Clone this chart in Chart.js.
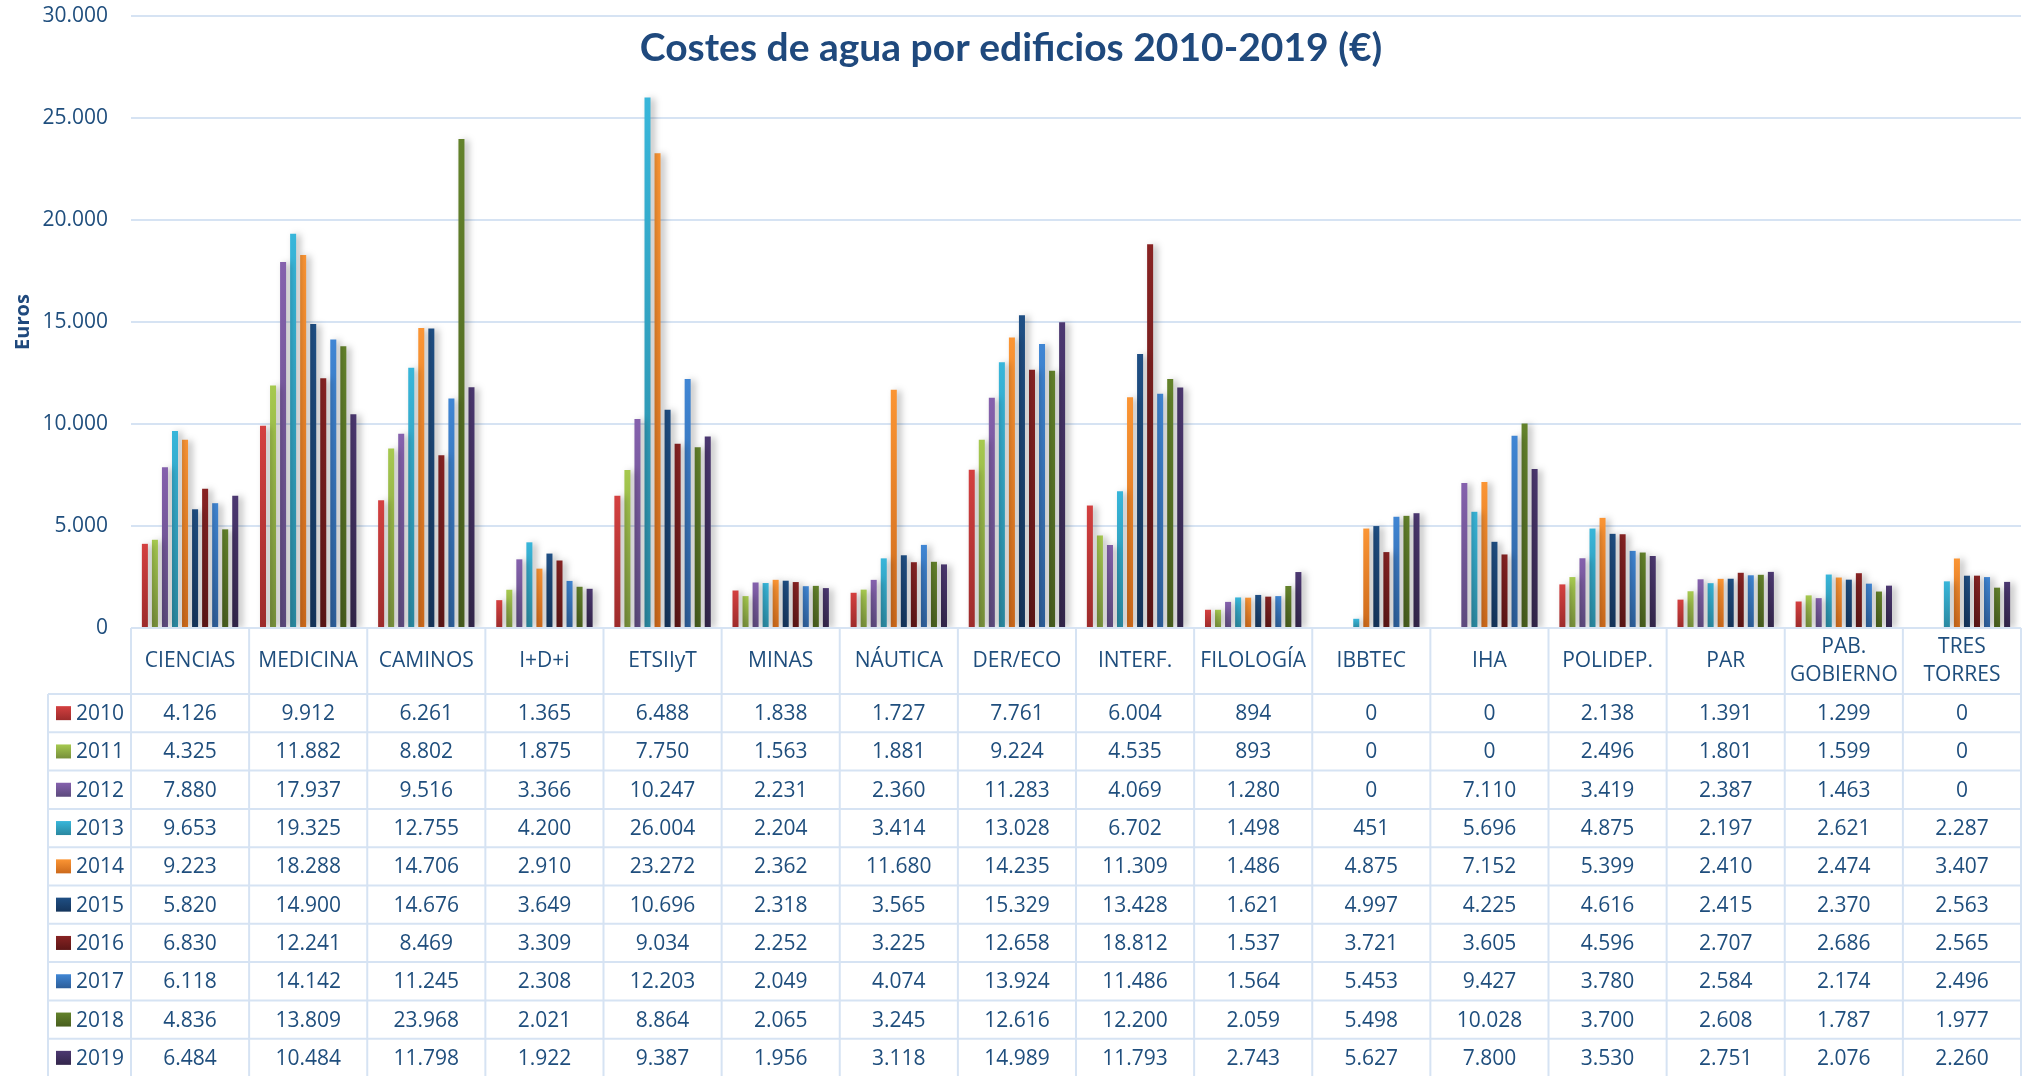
<!DOCTYPE html>
<html>
<head>
<meta charset="utf-8">
<script src="https://cdn.jsdelivr.net/npm/chart.js@4.4.1/dist/chart.umd.min.js"></script>
<style>
    body { margin: 0; background: #ffffff; }
    canvas { display: block; }
</style>
</head>
<body>
<canvas id="myBarChart" width="2033" height="1076"></canvas>
<script>
const chartTitle = 'Costes de agua por edificios 2010-2019 (€)';
const yTitle = 'Euros';

const categories = ['CIENCIAS', 'MEDICINA', 'CAMINOS', 'I+D+i', 'ETSIIyT', 'MINAS', 'NÁUTICA', 'DER/ECO',
    'INTERF.', 'FILOLOGÍA', 'IBBTEC', 'IHA', 'POLIDEP.', 'PAR', ['PAB.', 'GOBIERNO'], ['TRES', 'TORRES']];

const years = ['2010', '2011', '2012', '2013', '2014', '2015', '2016', '2017', '2018', '2019'];

const v2010 = [4126, 9912, 6261, 1365, 6488, 1838, 1727, 7761, 6004, 894, 0, 0, 2138, 1391, 1299, 0];
const v2011 = [4325, 11882, 8802, 1875, 7750, 1563, 1881, 9224, 4535, 893, 0, 0, 2496, 1801, 1599, 0];
const v2012 = [7880, 17937, 9516, 3366, 10247, 2231, 2360, 11283, 4069, 1280, 0, 7110, 3419, 2387, 1463, 0];
const v2013 = [9653, 19325, 12755, 4200, 26004, 2204, 3414, 13028, 6702, 1498, 451, 5696, 4875, 2197, 2621, 2287];
const v2014 = [9223, 18288, 14706, 2910, 23272, 2362, 11680, 14235, 11309, 1486, 4875, 7152, 5399, 2410, 2474, 3407];
const v2015 = [5820, 14900, 14676, 3649, 10696, 2318, 3565, 15329, 13428, 1621, 4997, 4225, 4616, 2415, 2370, 2563];
const v2016 = [6830, 12241, 8469, 3309, 9034, 2252, 3225, 12658, 18812, 1537, 3721, 3605, 4596, 2707, 2686, 2565];
const v2017 = [6118, 14142, 11245, 2308, 12203, 2049, 4074, 13924, 11486, 1564, 5453, 9427, 3780, 2584, 2174, 2496];
const v2018 = [4836, 13809, 23968, 2021, 8864, 2065, 3245, 12616, 12200, 2059, 5498, 10028, 3700, 2608, 1787, 1977];
const v2019 = [6484, 10484, 11798, 1922, 9387, 1956, 3118, 14989, 11793, 2743, 5627, 7800, 3530, 2751, 2076, 2260];

const yTicks = [0, 5000, 10000, 15000, 20000, 25000, 30000];

// colores (arriba / abajo del degradado)
const topColors = ['#d44040', '#a6c94f', '#8561ad', '#38b6da', '#fb9534', '#1f4f84', '#882323', '#4086d4', '#63822b', '#4c3871'];
const bottomColors = ['#9c2b2b', '#778f3b', '#5c4a7d', '#2a88a0', '#cc691b', '#15355c', '#5c1616', '#2d5e99', '#485e1e', '#33264b'];

const textColor = '#1f4e7d';
const lineColor = '#d6e3f3';

function fmt(v) {
    return v.toString().replace(/\B(?=(\d{3})+(?!\d))/g, '.');
}

document.addEventListener('DOMContentLoaded', function () {
    const canvas = document.getElementById('myBarChart');
    const ctx = canvas.getContext('2d');

    const allValues = [v2010, v2011, v2012, v2013, v2014, v2015, v2016, v2017, v2018, v2019];

    const datasets = years.map((year, i) => ({
        label: year,
        data: allValues[i],
        backgroundColor: function (c) {
            const chart = c.chart;
            const area = chart.chartArea;
            if (!area || c.type !== 'data') return topColors[i];
            const yTop = chart.scales.y.getPixelForValue(c.raw);
            const g = chart.ctx.createLinearGradient(0, yTop, 0, area.bottom);
            g.addColorStop(0, topColors[i]);
            g.addColorStop(1, bottomColors[i]);
            return g;
        },
        borderWidth: 0,
        barPercentage: 0.6,
        categoryPercentage: 0.85
    }));

    // sombra de las barras
    const shadowPlugin = {
        id: 'barShadow',
        beforeDatasetsDraw(chart) {
            const c = chart.ctx;
            c.save();
            c.shadowColor = 'rgba(0, 0, 0, 0.28)';
            c.shadowBlur = 7;
            c.shadowOffsetX = 4;
            c.shadowOffsetY = 1;
        },
        afterDatasetsDraw(chart) {
            chart.ctx.restore();
        }
    };

    // titulo + tabla de datos bajo el grafico
    const tablePlugin = {
        id: 'dataTable',
        afterDraw(chart) {
            const c = chart.ctx;
            const area = chart.chartArea;
            const x = chart.scales.x;
            const colW = (area.right - area.left) / categories.length;
            const top = area.bottom;
            const headH = 66;
            const rowH = 38.3;
            const legLeft = 48;

            c.save();
            c.fillStyle = '#1f497d';
            c.font = 'bold 39px Lato';
            c.textAlign = 'center';
            c.textBaseline = 'middle';
            c.fillText(chartTitle, 1011, 48);

            c.strokeStyle = lineColor;
            c.lineWidth = 2;
            c.beginPath();
            c.moveTo(area.left, top);
            c.lineTo(area.right, top);
            for (let r = 0; r <= years.length; r++) {
                const y = top + headH + r * rowH;
                c.moveTo(legLeft, y);
                c.lineTo(area.right, y);
            }
            for (let k = 0; k <= categories.length; k++) {
                const xx = area.left + k * colW;
                c.moveTo(xx, top);
                c.lineTo(xx, chart.height);
            }
            c.moveTo(legLeft, top + headH);
            c.lineTo(legLeft, chart.height);
            c.stroke();

            c.fillStyle = textColor;
            c.font = '21px "Open Sans"';
            categories.forEach((cat, k) => {
                const cx = x.getPixelForValue(k);
                if (Array.isArray(cat)) {
                    c.fillText(cat[0], cx, top + headH / 2 - 14);
                    c.fillText(cat[1], cx, top + headH / 2 + 14);
                } else {
                    c.fillText(cat, cx, top + headH / 2);
                }
            });

            years.forEach((year, r) => {
                const cy = top + headH + r * rowH + rowH / 2;
                const g = c.createLinearGradient(0, cy - 7, 0, cy + 7);
                g.addColorStop(0, topColors[r]);
                g.addColorStop(1, bottomColors[r]);
                c.fillStyle = g;
                c.fillRect(56, cy - 7, 15, 14);
                c.fillStyle = textColor;
                c.textAlign = 'left';
                c.fillText(year, 76, cy + 1);
                c.textAlign = 'center';
                allValues[r].forEach((v, k) => {
                    c.fillText(fmt(v), x.getPixelForValue(k), cy + 1);
                });
            });
            c.restore();
        }
    };

    const config = {
        type: 'bar',
        data: {
            labels: categories,
            datasets: datasets
        },
        plugins: [shadowPlugin, tablePlugin],
        options: {
            responsive: false,
            animation: false,
            layout: {
                padding: { top: 16, right: 12, bottom: 448, left: 0 }
            },
            plugins: {
                legend: { display: false },
                tooltip: { enabled: false },
                title: { display: false }
            },
            scales: {
                x: {
                    display: false
                },
                y: {
                    min: 0,
                    max: 30000,
                    afterFit: function (scale) {
                        scale.width = 131;
                    },
                    afterBuildTicks: function (scale) {
                        scale.ticks = yTicks.map(v => ({ value: v }));
                    },
                    ticks: {
                        color: textColor,
                        padding: 0,
                        font: { family: '"Open Sans"', size: 21 },
                        callback: function (value) {
                            return fmt(value);
                        }
                    },
                    grid: {
                        color: lineColor,
                        lineWidth: 2,
                        drawTicks: true,
                        tickLength: 23,
                        tickColor: 'rgba(0, 0, 0, 0)'
                    },
                    border: { display: false },
                    title: {
                        display: true,
                        text: yTitle,
                        color: '#1f497d',
                        padding: { top: 11, bottom: 0 },
                        font: { family: '"Open Sans"', size: 20, weight: 'bold' }
                    }
                }
            }
        }
    };

    new Chart(ctx, config);
});
</script>
</body>
</html>
